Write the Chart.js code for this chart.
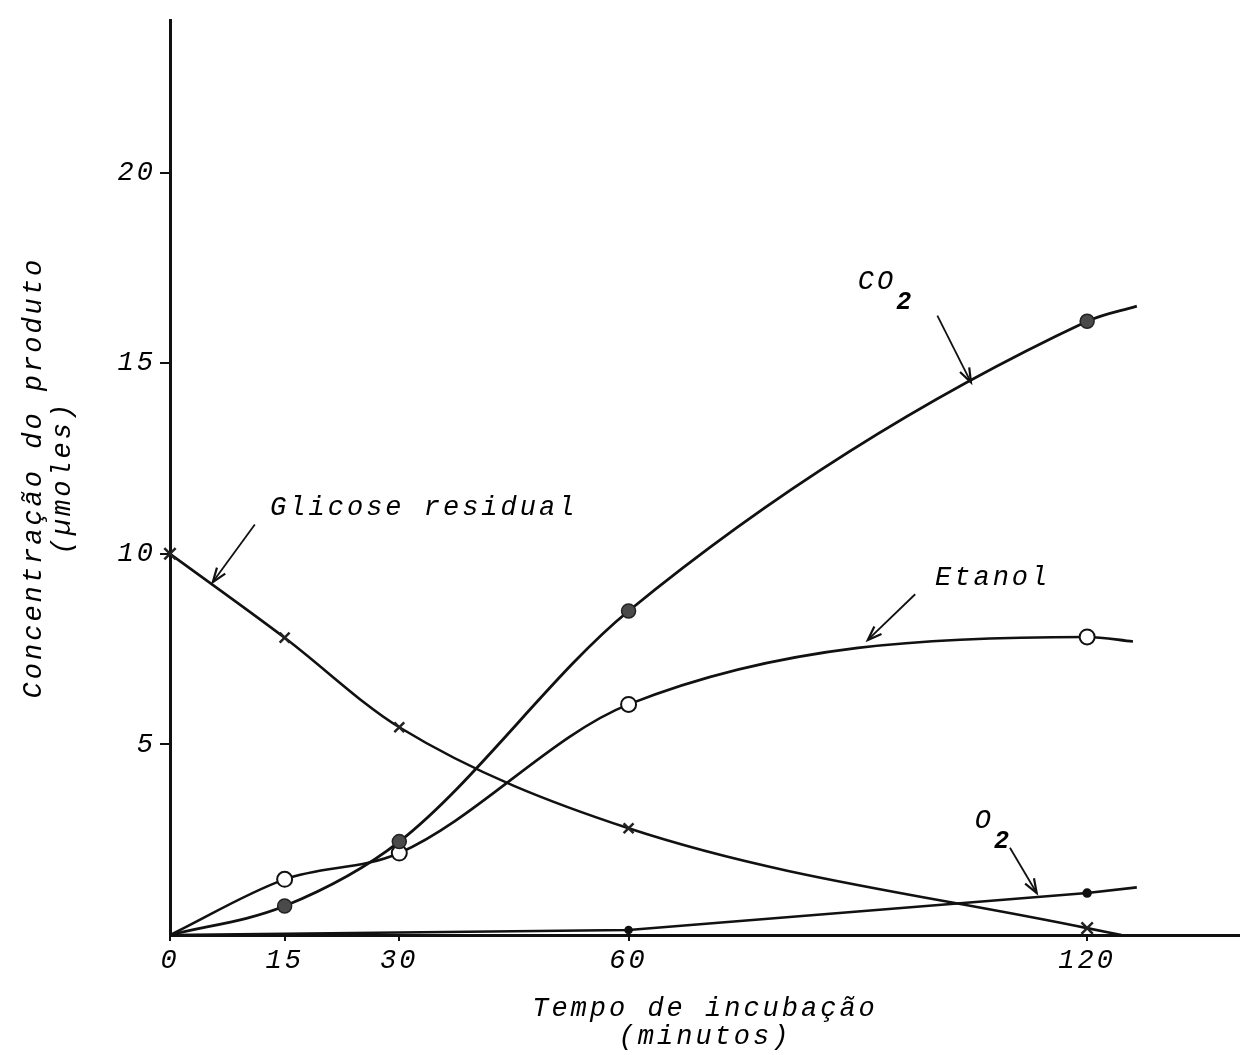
<!DOCTYPE html>
<html>
<head>
<meta charset="utf-8">
<script src="https://cdn.jsdelivr.net/npm/chart.js@4/dist/chart.umd.min.js"></script>
<style>
html, body { margin: 0; padding: 0; background: #fff; }
</style>
</head>
<body>
<canvas id="chart" width="1240" height="1055"></canvas>
<script>
// tempo de incubacao (minutos)
var minutes = [0, 15, 30, 60, 120];
var xTicks = [0, 15, 30, 60, 120];
var yTicks = [5, 10, 15, 20];

// concentracao (umoles)
var co2 = [0, 0.76, 2.45, 8.5, 16.1];
var etanol = [0, 1.46, 2.15, 6.05, 7.82];
var glicose = [10.0, 7.8, 5.45, 2.8, 0.18];
var o2Minutes = [0, 60, 120];
var o2 = [0, 0.13, 1.1];

// where each hand-drawn curve stops past the last reading
var co2End = [126.5, 16.5];
var etanolEnd = [126.0, 7.7];
var glicoseEnd = [124.5, 0];
var o2End = [126.5, 1.25];

var FAMILY = '"Liberation Mono", "DejaVu Sans Mono", monospace';
var TXT = 'italic 27px ' + FAMILY;
var SPACING = '3px';

// labels with arrows, anchored in data units
var notes = [
  { text: 'CO', sub: '2', at: [90.0, 16.95], from: [100.4, 16.25], to: [104.8, 14.5] },
  { text: 'Etanol', at: [100.1, 9.18], from: [97.5, 8.94], to: [91.3, 7.74] },
  { text: 'Glicose residual', at: [13.1, 11.03], from: [11.1, 10.77], to: [5.6, 9.26] },
  { text: 'O', sub: '2', at: [105.3, 2.82], from: [109.9, 2.29], to: [113.4, 1.1] }
];

function pts(xs, ys, end) {
  var out = [];
  for (var i = 0; i < xs.length; i++) {
    out.push({ x: xs[i], y: ys[i] });
  }
  out.push({ x: end[0], y: end[1] });
  return out;
}

var spacing = {
  id: 'spacing',
  beforeLayout: function (chart) { chart.ctx.letterSpacing = SPACING; },
  beforeDraw: function (chart) {
    var ctx = chart.ctx;
    ctx.save();
    ctx.fillStyle = '#fff';
    ctx.fillRect(0, 0, chart.width, chart.height);
    ctx.restore();
    ctx.letterSpacing = SPACING;
  }
};

var annotate = {
  id: 'annotate',
  afterDatasetsDraw: function (chart) {
    var ctx = chart.ctx;
    var xs = chart.scales.x, ys = chart.scales.y;
    ctx.save();
    ctx.letterSpacing = SPACING;
    ctx.fillStyle = '#000';
    ctx.strokeStyle = '#111';
    ctx.font = TXT;
    ctx.textAlign = 'left';
    ctx.textBaseline = 'alphabetic';
    notes.forEach(function (n) {
      var tx = xs.getPixelForValue(n.at[0]);
      var ty = ys.getPixelForValue(n.at[1]);
      ctx.fillText(n.text, tx, ty);
      if (n.sub) {
        var w = ctx.measureText(n.text).width;
        ctx.font = 'italic bold 25px ' + FAMILY;
        ctx.fillText(n.sub, tx + w, ty + 20);
        ctx.font = TXT;
      }
      var x1 = xs.getPixelForValue(n.from[0]), y1 = ys.getPixelForValue(n.from[1]);
      var x2 = xs.getPixelForValue(n.to[0]), y2 = ys.getPixelForValue(n.to[1]);
      ctx.lineWidth = 1.8;
      ctx.beginPath();
      ctx.moveTo(x1, y1);
      ctx.lineTo(x2, y2);
      ctx.stroke();
      var a = Math.atan2(y2 - y1, x2 - x1);
      ctx.lineWidth = 2.2;
      ctx.beginPath();
      ctx.moveTo(x2 - 15 * Math.cos(a - 0.35), y2 - 15 * Math.sin(a - 0.35));
      ctx.lineTo(x2, y2);
      ctx.lineTo(x2 - 15 * Math.cos(a + 0.35), y2 - 15 * Math.sin(a + 0.35));
      ctx.stroke();
    });
    ctx.restore();
  }
};

var tickFont = { family: FAMILY, size: 27, style: 'italic' };
var titleFont = { family: FAMILY, size: 27, style: 'italic', lineHeight: 1.05 };

new Chart(document.getElementById('chart'), {
  type: 'line',
  data: {
    datasets: [
      {
        label: 'CO2',
        data: pts(minutes, co2, co2End),
        borderColor: '#111',
        borderWidth: 2.8,
        cubicInterpolationMode: 'monotone',
        pointStyle: 'circle',
        pointRadius: [0, 7, 7, 7, 7, 0],
        pointBackgroundColor: '#4a4a4a',
        pointBorderColor: '#222',
        pointBorderWidth: 1.5,
        clip: false
      },
      {
        label: 'Etanol',
        data: pts(minutes, etanol, etanolEnd),
        borderColor: '#111',
        borderWidth: 2.6,
        cubicInterpolationMode: 'monotone',
        pointStyle: 'circle',
        pointRadius: [0, 7.5, 7.5, 7.5, 7.5, 0],
        pointBackgroundColor: '#fff',
        pointBorderColor: '#111',
        pointBorderWidth: 2,
        clip: false
      },
      {
        label: 'Glicose residual',
        data: pts(minutes, glicose, glicoseEnd),
        borderColor: '#111',
        borderWidth: 2.6,
        cubicInterpolationMode: 'monotone',
        pointStyle: 'crossRot',
        pointRadius: [8, 7, 7, 7, 8, 0],
        pointBorderColor: '#222',
        pointBorderWidth: 2.5,
        clip: false
      },
      {
        label: 'O2',
        data: pts(o2Minutes, o2, o2End),
        borderColor: '#111',
        borderWidth: 2.6,
        tension: 0,
        pointStyle: 'circle',
        pointRadius: [0, 3, 3.5, 0],
        pointBackgroundColor: '#111',
        pointBorderColor: '#111',
        clip: false
      }
    ]
  },
  options: {
    responsive: false,
    animation: false,
    devicePixelRatio: 1,
    layout: { autoPadding: false, padding: { top: 15, right: 0, bottom: 0, left: 0 } },
    plugins: {
      legend: { display: false },
      tooltip: { enabled: false }
    },
    scales: {
      x: {
        type: 'linear',
        min: 0,
        max: 140,
        border: { color: '#111', width: 3 },
        grid: { drawOnChartArea: false, drawTicks: true, tickLength: 6, color: '#111', lineWidth: 2 },
        afterBuildTicks: function (s) { s.ticks = xTicks.map(function (v) { return { value: v }; }); },
        afterFit: function (s) { s.height = 120; },
        ticks: { font: tickFont, color: '#000', padding: 4, autoSkip: false, maxRotation: 0 },
        title: {
          display: true,
          text: ['Tempo de incubação', '(minutos)'],
          font: titleFont,
          color: '#000',
          padding: { top: 0, bottom: 4 }
        }
      },
      y: {
        min: 0,
        max: 24,
        border: { color: '#111', width: 3 },
        grid: { drawOnChartArea: false, drawTicks: true, tickLength: 10, color: '#111', lineWidth: 2 },
        afterBuildTicks: function (s) { s.ticks = yTicks.map(function (v) { return { value: v }; }); },
        afterFit: function (s) { s.width = 170; },
        ticks: { font: tickFont, color: '#000', padding: 4 },
        title: {
          display: true,
          text: ['Concentração do produto', '(µmoles)'],
          font: titleFont,
          color: '#000',
          padding: { top: 20, bottom: 0 }
        }
      }
    }
  },
  plugins: [spacing, annotate]
});
</script>
</body>
</html>
